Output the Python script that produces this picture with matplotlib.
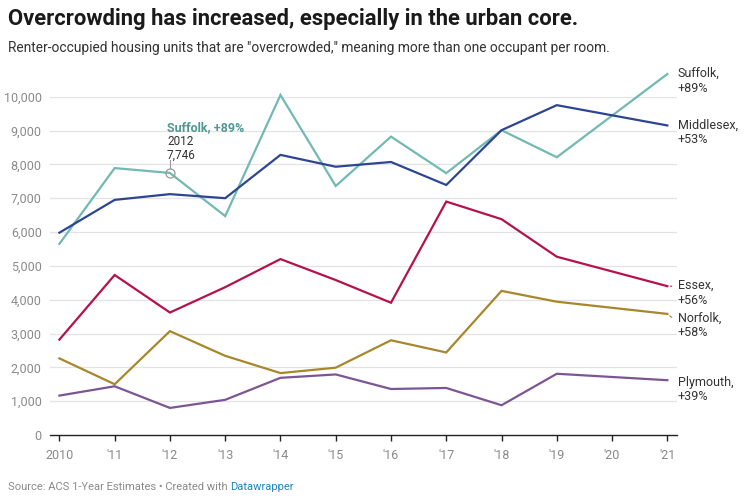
import matplotlib
matplotlib.use("Agg")
import matplotlib.pyplot as plt

plt.rcParams['font.family'] = ['Roboto', 'DejaVu Sans']

years = [2010, 2011, 2012, 2013, 2014, 2015, 2016, 2017, 2018, 2019, 2021]
suffolk = [5650, 7890, 7746, 6470, 10050, 7360, 8820, 7740, 9010, 8210, 10670]
middlesex = [5980, 6950, 7120, 7000, 8280, 7930, 8070, 7390, 9010, 9750, 9150]
essex = [2820, 4730, 3620, 4370, 5200, 4580, 3910, 6900, 6380, 5270, 4400]
norfolk = [2265, 1500, 3070, 2340, 1830, 1990, 2800, 2440, 4260, 3940, 3580]
plymouth = [1165, 1440, 800, 1040, 1690, 1790, 1360, 1390, 880, 1810, 1620]

series = [
    ("Suffolk", "+89%", suffolk, "#72b9b4"),
    ("Middlesex", "+53%", middlesex, "#2d4592"),
    ("Essex", "+56%", essex, "#b5124d"),
    ("Norfolk", "+58%", norfolk, "#a8872b"),
    ("Plymouth", "+39%", plymouth, "#7c5594"),
]

tick_years = list(range(2010, 2022))
tick_labels = ["2010"] + ["'%02d" % (y % 100) for y in tick_years[1:]]
yticks = list(range(0, 10001, 1000))
ytick_labels = ["0"] + ["{:,}".format(v) for v in yticks[1:]]

W, H = 744, 498
fig = plt.figure(figsize=(W / 100, H / 100), dpi=100)
ax = fig.add_axes([50 / W, 1 - 435 / H, 627 / W, (435 - 96.7) / H])
ax.set_xlim(2009.83, 2021.175)
ax.set_ylim(0, 10000)

for name, pct, vals, col in series:
    ax.plot(years, vals, color=col, lw=1.6, clip_on=False, zorder=3,
            solid_joinstyle='miter')

ax.set_yticks(yticks)
ax.set_yticklabels(ytick_labels)
ax.set_xticks(tick_years)
ax.set_xticklabels(tick_labels)
for v in yticks[1:]:
    ax.axhline(v, color="#e3e3e3", lw=0.9, zorder=1)
for s in ["top", "right", "left"]:
    ax.spines[s].set_visible(False)
ax.spines["bottom"].set_color("#222222")
ax.spines["bottom"].set_linewidth(1.0)
ax.tick_params(axis='y', length=0, pad=6, labelsize=9, labelcolor="#8a8a8a")
ax.tick_params(axis='x', length=4, width=1.0, color="#222222", pad=6,
               labelsize=9, labelcolor="#8a8a8a")

# right-side labels (pixel offsets of first-line centre below the line end)
label_shift_px = {"Norfolk": 4.4, "Plymouth": 2.3}
for name, pct, vals, col in series:
    off_px = label_shift_px.get(name, 0.0)
    ax.annotate(name + ",\n" + pct, xy=(2021, vals[-1]),
                xytext=(7.4, 5.0 - off_px * 0.72),
                textcoords="offset points", fontsize=9, color="#333333",
                va="top", ha="left", linespacing=1.15,
                annotation_clip=False)
    if name in ("Essex", "Norfolk"):
        ax.annotate("", xy=(2021, vals[-1]), xytext=(3.2, -off_px * 0.72 * 0.8),
                    textcoords="offset points", annotation_clip=False,
                    arrowprops=dict(arrowstyle="-", color=col, lw=0.8,
                                    shrinkA=0, shrinkB=2.2))

# tooltip annotation
ax.plot([2012], [7746], marker="o", ms=6.5, mfc="none", mec="#999999",
        mew=0.9, zorder=4, clip_on=False)
ax.plot([2012, 2012], [7746 + 140, 7746 + 390], color="#999999", lw=0.8,
        zorder=4)
fig.text(167 / W, 1 - 128 / H, "Suffolk, +89%", fontsize=9, fontweight="bold",
         color="#4f9894", va="center", ha="left")
fig.text(167 / W, 1 - 141.5 / H, "2012", fontsize=8.5, color="#333333",
         va="center", ha="left")
fig.text(167 / W, 1 - 155 / H, "7,746", fontsize=8.5, color="#333333",
         va="center", ha="left")

# title & subtitle
fig.text(8 / W, 1 - 18.5 / H, "Overcrowding has increased, especially in the urban core.",
         fontsize=15.8, fontweight="bold", color="#1a1a1a", va="center", ha="left")
fig.text(8 / W, 1 - 48 / H,
         "Renter-occupied housing units that are \"overcrowded,\" meaning more than one occupant per room.",
         fontsize=9.95, color="#333333", va="center", ha="left")

# footer
t = fig.text(8 / W, 1 - 487 / H, "Source: ACS 1-Year Estimates \u2022 Created with ",
             fontsize=8, color="#8a8a8a", va="center", ha="left")
fig.canvas.draw()
bb = t.get_window_extent()
fig.text(bb.x1 / W, 1 - 487 / H, "Datawrapper", fontsize=8, color="#1d86b8",
         va="center", ha="left")

fig.savefig("out.png", dpi=100)
